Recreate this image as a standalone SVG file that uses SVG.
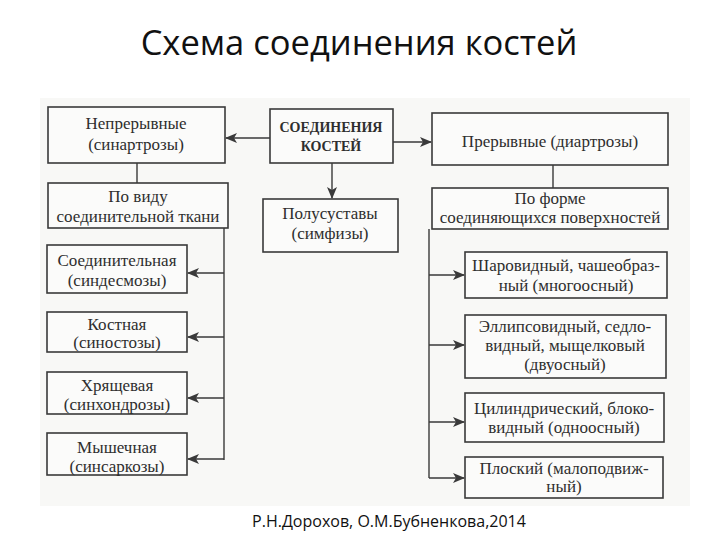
<svg xmlns="http://www.w3.org/2000/svg" width="720" height="540" viewBox="0 0 720 540">
<style>
.box{fill:#fbfbfa;stroke:#3a3a3a;stroke-width:1.6}
.t{font-family:'Liberation Serif','Times New Roman',Tinos,'DejaVu Serif',serif;font-size:17px;fill:#2e2e2e;text-anchor:middle}
.b{font-weight:bold;font-size:14px}
.ln{fill:none;stroke:#3a3a3a;stroke-width:1.4}
.title{font-family:'Open Sans','Liberation Sans',sans-serif;font-size:34.5px;fill:#111;text-anchor:middle}
.foot{font-family:'Open Sans','Liberation Sans',sans-serif;font-size:16px;fill:#111;text-anchor:middle}
</style>
<defs>
<marker id="ah" viewBox="0 0 12 10" refX="11" refY="5" markerWidth="12" markerHeight="10" markerUnits="userSpaceOnUse" orient="auto">
<path d="M0,0 L12,5 L0,10 L3,5 Z" fill="#3a3a3a"/>
</marker>
</defs>
<rect width="720" height="540" fill="#fff"/>
<rect x="40" y="98" width="650" height="408" fill="#f8f8f6"/>
<text class="title" x="359" y="55">Схема соединения костей</text>
<text class="foot" x="389" y="527">Р.Н.Дорохов, О.М.Бубненкова,2014</text>

<g id="connectors">
<line class="ln" x1="270" y1="138" x2="226" y2="138" marker-end="url(#ah)"/>
<line class="ln" x1="393" y1="142" x2="431" y2="142" marker-end="url(#ah)"/>
<line class="ln" x1="332" y1="163" x2="332" y2="198" marker-end="url(#ah)"/>
<line class="ln" x1="137" y1="163" x2="137" y2="183"/>
<line class="ln" x1="553" y1="165" x2="553" y2="188"/>
<polyline class="ln" points="224,228 224,460"/>
<line class="ln" x1="224" y1="273" x2="188" y2="273" marker-end="url(#ah)"/>
<line class="ln" x1="224" y1="337" x2="188" y2="337" marker-end="url(#ah)"/>
<line class="ln" x1="224" y1="398" x2="188" y2="398" marker-end="url(#ah)"/>
<line class="ln" x1="224" y1="459" x2="188" y2="459" marker-end="url(#ah)"/>
<polyline class="ln" points="429,229 429,478"/>
<line class="ln" x1="429" y1="275" x2="464" y2="275" marker-end="url(#ah)"/>
<line class="ln" x1="429" y1="345" x2="464" y2="345" marker-end="url(#ah)"/>
<line class="ln" x1="429" y1="422" x2="464" y2="422" marker-end="url(#ah)"/>
<line class="ln" x1="429" y1="478" x2="464" y2="478" marker-end="url(#ah)"/>
</g>

<g id="n-nepreryvnye"><rect class="box" x="48" y="107" width="177" height="56"/>
<text class="t" x="136" y="129">Непрерывные</text><text class="t" x="136" y="150">(синартрозы)</text></g>
<g id="n-soedineniya"><rect class="box" x="270" y="109" width="123" height="54"/>
<text class="t b" x="331" y="132">СОЕДИНЕНИЯ</text><text class="t b" x="331" y="151">КОСТЕЙ</text></g>
<g id="n-preryvnye"><rect class="box" x="432" y="113" width="236" height="52"/>
<text class="t" x="550" y="147">Прерывные (диартрозы)</text></g>
<g id="n-po-vidu"><rect class="box" x="48" y="183" width="180" height="45"/>
<text class="t" x="138" y="202">По виду</text><text class="t" x="138" y="222">соединительной ткани</text></g>
<g id="n-po-forme"><rect class="box" x="432" y="188" width="236" height="41"/>
<text class="t" x="550" y="204">По форме</text><text class="t" x="550" y="223">соединяющихся поверхностей</text></g>
<g id="n-polusustavy"><rect class="box" x="263" y="199" width="135" height="53"/>
<text class="t" x="330" y="219">Полусуставы</text><text class="t" x="330" y="239">(симфизы)</text></g>

<g id="n-soedinitelnaya"><rect class="box" x="47" y="245" width="140" height="48"/>
<text class="t" x="117" y="266">Соединительная</text><text class="t" x="117" y="286">(синдесмозы)</text></g>
<g id="n-kostnaya"><rect class="box" x="47" y="312" width="140" height="40"/>
<text class="t" x="117" y="330">Костная</text><text class="t" x="117" y="348">(синостозы)</text></g>
<g id="n-khryashchevaya"><rect class="box" x="47" y="372" width="140" height="42"/>
<text class="t" x="117" y="391">Хрящевая</text><text class="t" x="117" y="410">(синхондрозы)</text></g>
<g id="n-myshechnaya"><rect class="box" x="47" y="433" width="140" height="42"/>
<text class="t" x="117" y="453">Мышечная</text><text class="t" x="117" y="472">(синсаркозы)</text></g>

<g id="n-sharovidny"><rect class="box" x="465" y="252" width="202" height="46"/>
<text class="t" x="566" y="271">Шаровидный, чашеобраз-</text><text class="t" x="566" y="291">ный (многоосный)</text></g>
<g id="n-ellipsovidny"><rect class="box" x="465" y="315" width="201" height="63"/>
<text class="t" x="565" y="332">Эллипсовидный, седло-</text><text class="t" x="565" y="351">видный, мыщелковый</text><text class="t" x="565" y="370">(двуосный)</text></g>
<g id="n-tsilindrichesky"><rect class="box" x="465" y="393" width="199" height="49"/>
<text class="t" x="564" y="414">Цилиндрический, блоко-</text><text class="t" x="564" y="433">видный (одноосный)</text></g>
<g id="n-ploskiy"><rect class="box" x="465" y="457" width="198" height="41"/>
<text class="t" x="564" y="474">Плоский (малоподвиж-</text><text class="t" x="564" y="492">ный)</text></g>
</svg>
